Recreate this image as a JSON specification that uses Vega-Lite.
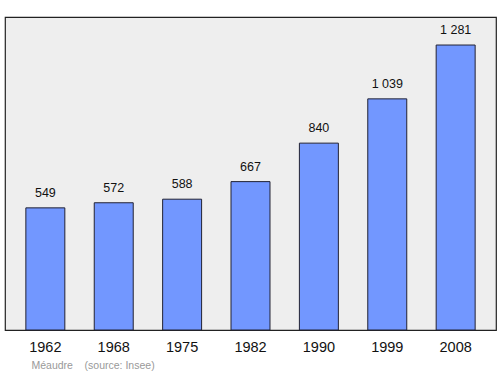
{
  "$schema": "https://vega.github.io/schema/vega-lite/v6.json",
  "autosize": "none",
  "width": 491,
  "height": 313,
  "padding": {"left": 5, "top": 17, "right": 4, "bottom": 44},
  "background": "white",
  "config": {
    "view": {"fill": "#eeeeee", "stroke": "#222222", "strokeWidth": 1.2},
    "font": "Liberation Sans"
  },
  "data": {
    "values": [
      {"year": "1962", "pop": 549, "label": "549"},
      {"year": "1968", "pop": 572, "label": "572"},
      {"year": "1975", "pop": 588, "label": "588"},
      {"year": "1982", "pop": 667, "label": "667"},
      {"year": "1990", "pop": 840, "label": "840"},
      {"year": "1999", "pop": 1039, "label": "1 039"},
      {"year": "2008", "pop": 1281, "label": "1 281"}
    ]
  },
  "encoding": {
    "x": {
      "field": "year",
      "type": "nominal",
      "sort": null,
      "scale": {"paddingInner": 0.43, "paddingOuter": 0.305},
      "axis": {
        "title": "Méaudre\u00a0\u00a0\u00a0\u00a0(source: Insee)",
        "titleFontSize": 10.5,
        "titleFontWeight": "normal",
        "titleColor": "#999999",
        "titleAnchor": "start",
        "titleAlign": "left",
        "titleX": 26,
        "titleY": 40,
        "titleBaseline": "bottom",
        "labelAngle": 0,
        "labelFontSize": 14.5,
        "labelColor": "#111111",
        "labelPadding": 10,
        "domain": false,
        "ticks": false,
        "grid": false
      }
    },
    "y": {
      "field": "pop",
      "type": "quantitative",
      "scale": {"domain": [0, 1407], "nice": false},
      "axis": null
    }
  },
  "layer": [
    {
      "mark": {"type": "bar", "fill": "#7297ff", "stroke": "#222233", "strokeWidth": 1}
    },
    {
      "mark": {"type": "text", "baseline": "bottom", "dy": -8, "fontSize": 12.5, "color": "#111111"},
      "encoding": {"text": {"field": "label"}}
    }
  ]
}
